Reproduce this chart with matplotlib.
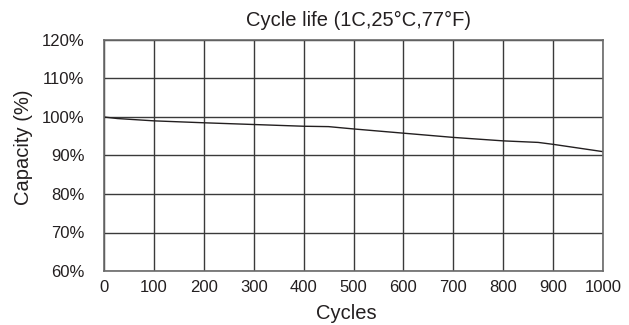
import matplotlib
matplotlib.use("Agg")
import matplotlib.pyplot as plt
from matplotlib.ticker import FuncFormatter

plt.rcParams['font.family'] = ['Liberation Sans', 'DejaVu Sans']

cycles = [0, 27, 100, 200, 300, 400, 450, 500, 600, 700, 800, 870, 900, 1000]
capacity = [100, 99.6, 99.0, 98.5, 98.05, 97.6, 97.5, 96.9, 95.8, 94.7, 93.8, 93.4, 92.9, 91.0]
x_ticks = list(range(0, 1001, 100))
y_ticks = list(range(60, 121, 10))

fig = plt.figure(figsize=(6.29, 3.25), dpi=100)
ax = fig.add_axes([104/629, 1-271/325, 499/629, 231/325])
ax.plot(cycles, capacity, color='#231f20', lw=1.0)
ax.set_xlim(0, 1000)
ax.set_ylim(60, 120)
ax.set_xticks(x_ticks)
ax.set_yticks(y_ticks)
ax.yaxis.set_major_formatter(FuncFormatter(lambda v, p: f"{int(v)}%"))
ax.grid(True, color='#3a3a3a', lw=1.0)
ax.set_axisbelow(True)
for s in ax.spines.values():
    s.set_color('#6a6a6a')
    s.set_linewidth(1.2)
ax.tick_params(length=0, labelsize=12, colors='#231f20', pad=6.5)
ax.tick_params(axis='y', pad=14)
ax.set_xlabel('Cycles', fontsize=14.5, color='#231f20')
ax.set_ylabel('Capacity (%)', fontsize=14.5, color='#231f20')
ax.xaxis.set_label_coords(0.486, -0.143)
ax.yaxis.set_label_coords(-0.1417, 0.537)
ax.set_title('Cycle life (1C,25°C,77°F)', fontsize=14.5, color='#231f20', pad=10, x=0.511)
fig.savefig('out.png', dpi=100, facecolor='white')
